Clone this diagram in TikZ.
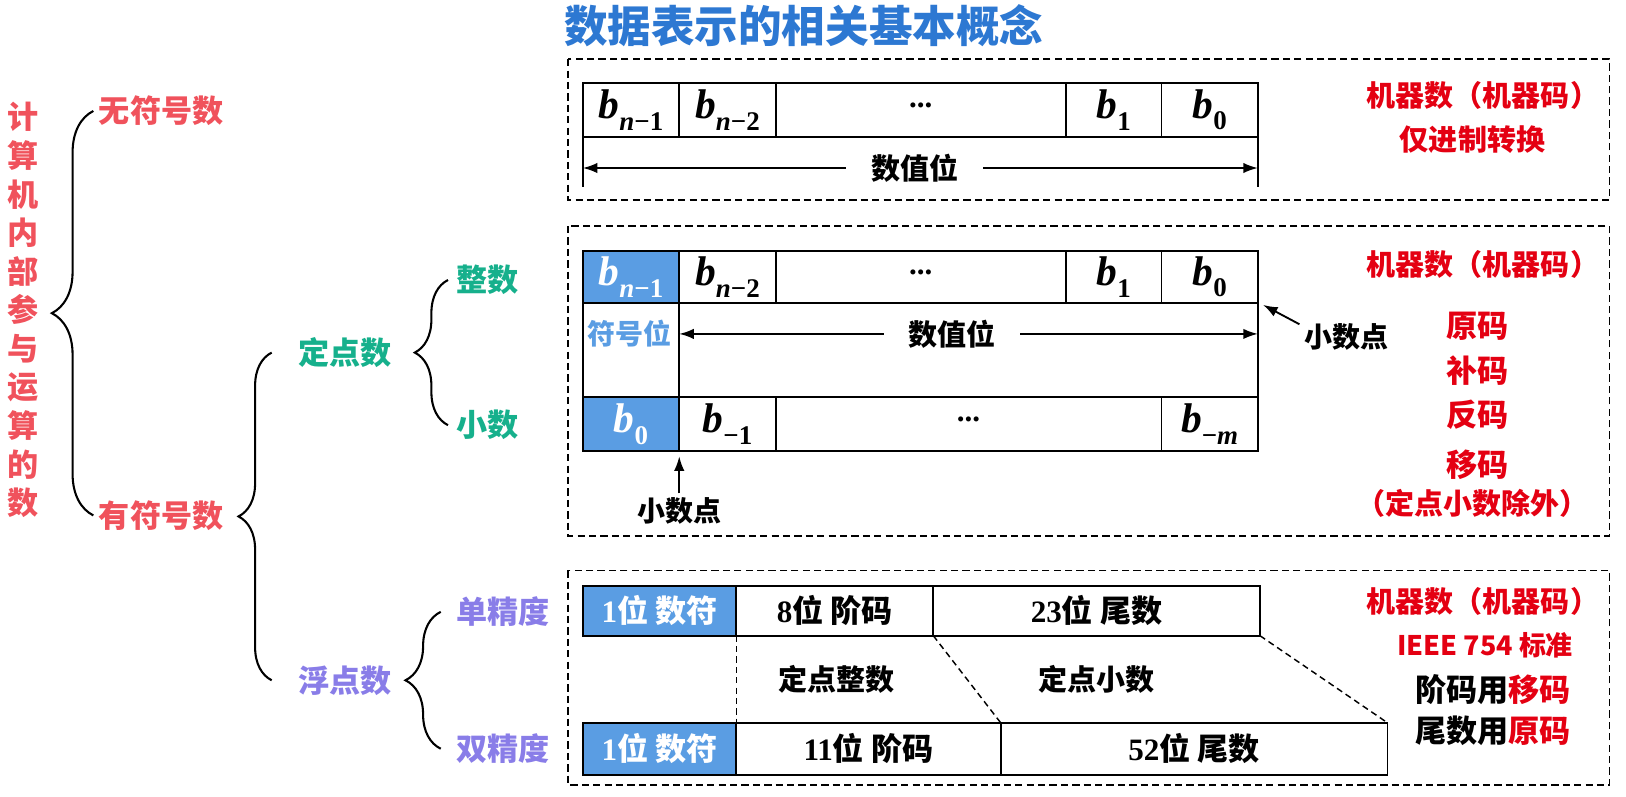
\documentclass[tikz,border=0pt]{standalone}
\usepackage{fontspec}
\setmainfont{Liberation Serif}
\newfontfamily\cjk{Noto Sans CJK SC}
\usetikzlibrary{arrows.meta,decorations.pathreplacing,calc}
\definecolor{lred}{RGB}{240,82,92}
\definecolor{mred}{RGB}{228,0,18}
\definecolor{tealc}{RGB}{22,176,140}
\definecolor{purp}{RGB}{137,125,232}
\definecolor{tblue}{RGB}{45,120,210}
\definecolor{cblue}{RGB}{90,157,227}
\newcommand\dg[1]{{\rmfamily\bfseries #1}}
\newcommand\bb[1]{{\rmfamily\bfseries\itshape b}\raisebox{-0.28em}{\rmfamily\bfseries\fontsize{13pt}{15pt}\selectfont #1}}
\newcommand\nn{\textit{n}}
\newcommand\dts{{\rmfamily\bfseries\fontsize{15pt}{17pt}\selectfont\raisebox{0.3em}{...}}}
\begin{document}
\begin{tikzpicture}[x=0.5pt,y=-0.5pt,
  lbl/.style={font=\cjk\bfseries\fontsize{15pt}{18pt}\selectfont, inner sep=0pt},
  sl/.style={font=\cjk\bfseries\fontsize{14pt}{17pt}\selectfont, inner sep=0pt},
  rl/.style={font=\cjk\bfseries\fontsize{14pt}{17pt}\selectfont, inner sep=0pt, text=mred},
  cell/.style={draw, line width=0.9pt, inner sep=0pt, outer sep=0pt, anchor=north west,
               font=\fontsize{20pt}{22pt}\selectfont},
  tcell/.style={cell, font=\cjk\bfseries\fontsize{15pt}{18pt}\selectfont},
  sgn/.style={fill=cblue, text=white},
  dbox/.style={draw, line width=0.8pt, dash pattern=on 3.5pt off 2pt},
  dline/.style={draw, line width=0.7pt, dash pattern=on 3pt off 2pt},
  arr/.style={-{Latex[length=7pt,width=5pt]}, line width=0.9pt},
  brc/.style={decorate, decoration={brace, amplitude=#1}, line width=1pt}]
\useasboundingbox (0,0) rectangle (1568,768);

% title
\node[font=\cjk\bfseries\fontsize{21pt}{24pt}\selectfont, text=tblue, inner sep=0pt] (title) at (775,25) {数据表示的相关基本概念};

% tree
\node[lbl, text=lred, align=center, font=\cjk\bfseries\fontsize{15pt}{18.6pt}\selectfont] (root) at (22,299)
  {计\\算\\机\\内\\部\\参\\与\\运\\算\\的\\数};
\node[lbl, text=lred, anchor=west] (wfh) at (95,107) {无符号数};
\node[lbl, text=lred, anchor=west] (yfh) at (95,497) {有符号数};
\node[lbl, text=tealc, anchor=west] (ddn) at (287,340) {定点数};
\node[lbl, text=tealc, anchor=west] (zs) at (440,270) {整数};
\node[lbl, text=tealc, anchor=west] (xs) at (440,410) {小数};
\node[lbl, text=purp, anchor=west] (fdn) at (287,656) {浮点数};
\node[lbl, text=purp, anchor=west] (dj) at (440,590) {单精度};
\node[lbl, text=purp, anchor=west] (sj) at (440,722) {双精度};

\draw[brc=20pt] ($(yfh.west)+(-5,0)$) -- ($(wfh.west)+(-5,0)$);
\draw[brc=16pt] ($(fdn.west)+(-25,0)$) -- ($(ddn.west)+(-25,0)$);
\draw[brc=16pt] ($(xs.west)+(-8,0)$) -- ($(zs.west)+(-8,0)$);
\draw[brc=17pt] ($(sj.west)+(-15,0)$) -- ($(dj.west)+(-15,0)$);

% ---------- box 1 ----------
\draw[dbox] (548,57) rectangle (1552,193);
\node[cell, minimum width=46.5pt, minimum height=26pt] (a1) at (562,80) {\bb{\nn−1}};
\node[cell, minimum width=46.5pt, minimum height=26pt] (a2) at (a1.north east) {\bb{\nn−2}};
\node[cell, minimum width=140pt, minimum height=26pt] (a3) at (a2.north east) {\dts};
\node[cell, minimum width=46pt, minimum height=26pt] (a4) at (a3.north east) {\bb{1}};
\node[cell, minimum width=46.5pt, minimum height=26pt] (a5) at (a4.north east) {\bb{0}};
\draw[line width=0.9pt] (a1.south west) -- ++(0,48);
\draw[line width=0.9pt] (a5.south east) -- ++(0,48);
\draw[arr, {Latex[length=7pt,width=5pt]}-{Latex[length=7pt,width=5pt]}] ($(a1.south west)+(0,30)$) -- ($(a5.south east)+(0,30)$);
\node[sl, fill=white, inner xsep=12pt, inner ysep=2pt] (sz1) at (882,162) {数值位};
\node[rl] (m1) at (1430,92) {机器数（机器码）};
\node[rl] (m1b) at (1420,135) {仅进制转换};

% ---------- box 2 ----------
\draw[dbox] (548,218) rectangle (1552,517);
\node[cell, sgn, minimum width=46.5pt, minimum height=25pt] (b1) at (562,242) {\bb{\nn−1}};
\node[cell, minimum width=46.5pt, minimum height=25pt] (b2) at (b1.north east) {\bb{\nn−2}};
\node[cell, minimum width=140pt, minimum height=25pt] (b3) at (b2.north east) {\dts};
\node[cell, minimum width=46pt, minimum height=25pt] (b4) at (b3.north east) {\bb{1}};
\node[cell, minimum width=46.5pt, minimum height=25pt] (b5) at (b4.north east) {\bb{0}};
\node[cell, minimum width=46.5pt, minimum height=45.5pt] (bm1) at (b1.south west) {};
\node[cell, minimum width=279pt, minimum height=45.5pt] (bm2) at (bm1.north east) {};
\node[cell, sgn, minimum width=46.5pt, minimum height=26pt] (c1) at (bm1.south west) {\bb{0}};
\node[cell, minimum width=46.5pt, minimum height=26pt] (c2) at (c1.north east) {\bb{−1}};
\node[cell, minimum width=186pt, minimum height=26pt] (c3) at (c2.north east) {\dts};
\node[cell, minimum width=46.5pt, minimum height=26pt] (c4) at (c3.north east) {\bb{−\textit{m}}};
\node[sl, text=cblue, font=\cjk\bfseries\fontsize{13.5pt}{16pt}\selectfont] (fhw) at (607,322) {符号位};
\draw[arr, {Latex[length=7pt,width=5pt]}-{Latex[length=7pt,width=5pt]}] ($(bm2.north west)+(0,30)$) -- ($(bm2.north east)+(0,30)$);
\node[sl, fill=white, inner xsep=12pt, inner ysep=2pt] (sz2) at (918,322) {数值位};
\node[sl, font=\cjk\bfseries\fontsize{13.5pt}{16pt}\selectfont] (xsd1) at (1298,325) {小数点};
\node[sl, font=\cjk\bfseries\fontsize{13.5pt}{16pt}\selectfont] (xsd2) at (655,493) {小数点};
\draw[arr] ($(xsd1.north west)+(-4,1)$) -- ($(b5.south east)+(5,2)$);
\draw[arr] ($(xsd2.north)+(0,-4)$) -- ($(c1.south east)+(0,5)$);
\node[rl] (m2) at (1430,255) {机器数（机器码）};
\node[rl, font=\cjk\bfseries\fontsize{15pt}{18pt}\selectfont] (yma) at (1425,315) {原码};
\node[rl, font=\cjk\bfseries\fontsize{15pt}{18pt}\selectfont] (bma) at (1425,357) {补码};
\node[rl, font=\cjk\bfseries\fontsize{15pt}{18pt}\selectfont] (fma) at (1425,400) {反码};
\node[rl, font=\cjk\bfseries\fontsize{15pt}{18pt}\selectfont] (ymb) at (1425,448) {移码};
\node[rl] (chw) at (1420,485) {（定点小数除外）};

% ---------- box 3 ----------
\draw[dbox] (548,550) rectangle (1552,757);
\node[tcell, sgn, minimum width=74pt, minimum height=24pt] (d1) at (562,565) {\dg{1}位 数符};
\node[tcell, minimum width=95pt, minimum height=24pt] (d2) at (d1.north east) {\dg{8}位 阶码};
\node[tcell, minimum width=157.5pt, minimum height=24pt] (d3) at (d2.north east) {\dg{23}位 尾数};
\node[tcell, sgn, minimum width=74pt, minimum height=25pt] (e1) at (562,697) {\dg{1}位 数符};
\node[tcell, minimum width=127.5pt, minimum height=25pt] (e2) at (e1.north east) {\dg{11}位 阶码};
\node[tcell, minimum width=186.5pt, minimum height=25pt] (e3) at (e2.north east) {\dg{52}位 尾数};
\draw[dline] (d2.south west) -- (e2.north west);
\draw[dline] (d3.south west) -- (e3.north west);
\draw[dline] (d3.south east) -- (e3.north east);
\node[sl] (ddzs) at (807,655) {定点整数};
\node[sl] (ddxs) at (1057,655) {定点小数};
\node[rl] (m3) at (1430,580) {机器数（机器码）};
\node[rl, font=\cjk\bfseries\fontsize{13pt}{15pt}\selectfont] (ieee) at (1432,622) {IEEE 754 标准};
\node[lbl] (jm) at (1440,665) {阶码用\textcolor{mred}{移码}};
\node[lbl] (wsh) at (1440,705) {尾数用\textcolor{mred}{原码}};
\end{tikzpicture}
\end{document}
